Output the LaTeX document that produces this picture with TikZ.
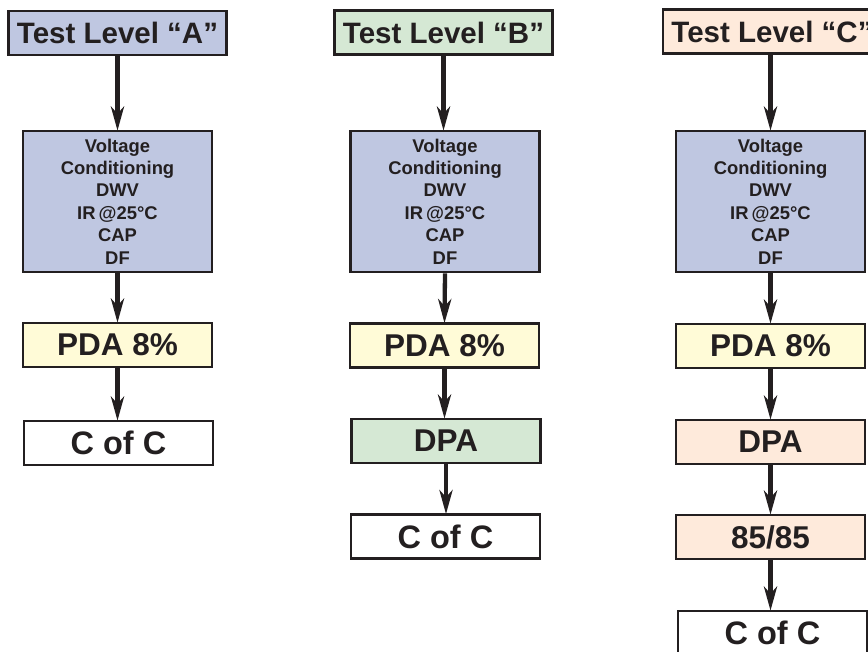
\documentclass[tikz,border=0pt]{standalone}
\usepackage{fontspec}
\setmainfont{Liberation Sans}
\usetikzlibrary{arrows.meta}
\definecolor{ink}{HTML}{231F20}
\definecolor{blueBox}{HTML}{BFC7E1}
\definecolor{yellowBox}{HTML}{FFFBD7}
\definecolor{greenBox}{HTML}{D5E8D4}
\definecolor{peachBox}{HTML}{FEEADB}
\tikzset{
  box/.style={draw=ink, line width=2.6pt, inner sep=0pt, text=ink, font=\bfseries\fontsize{31.5}{31.5}\selectfont, minimum width=189pt, minimum height=44pt},
  cocbox/.style={box, fill=white, font=\bfseries\fontsize{32.5}{32.5}\selectfont},
  titlebox/.style={box, font=\bfseries\fontsize{29.5}{29.5}\selectfont, minimum width=218pt},
  volbox/.style={box, minimum height=141pt, align=center, font=\bfseries\fontsize{18.4}{22.4}\selectfont},
  flow/.style={draw=ink, line width=4.3pt, -{Stealth[length=24pt, width=13pt, inset=7pt]}, shorten >=-1pt}
}
\begin{document}
\begin{tikzpicture}[x=1pt, y=-1pt]
\useasboundingbox (0,0) rectangle (868,651);
\clip (0,0) rectangle (868,651);
% Column A
\node[titlebox, fill=blueBox] (tA) at (117.5,33) {Test Level “A”};
\node[volbox, fill=blueBox] (vA) at (117.5,201.5) {Voltage\\Conditioning\\DWV\\IR\,@25°C\\CAP\\DF};
\node[box, fill=yellowBox] (pA) at (117.5,345) {PDA 8\%};
\node[cocbox] (cA) at (118.5,443) {C of C};
% Column B
\node[titlebox, fill=greenBox] (tB) at (443.5,32.5) {Test Level “B”};
\node[volbox, fill=blueBox] (vB) at (445,201.5) {Voltage\\Conditioning\\DWV\\IR\,@25°C\\CAP\\DF};
\node[box, fill=yellowBox] (pB) at (444.5,345.5) {PDA 8\%};
\node[box, fill=greenBox] (dB) at (446,441) {DPA};
\node[cocbox] (cB) at (445.5,536.5) {C of C};
% Column C
\node[titlebox, fill=peachBox] (tC) at (772,31.5) {Test Level “C”};
\node[volbox, fill=blueBox] (vC) at (770.5,201.5) {Voltage\\Conditioning\\DWV\\IR\,@25°C\\CAP\\DF};
\node[box, fill=yellowBox] (pC) at (770.5,346) {PDA 8\%};
\node[box, fill=peachBox] (dC) at (770.5,442) {DPA};
\node[box, fill=peachBox] (hC) at (770.5,537) {85/85};
\node[cocbox] (cC) at (772.5,633) {C of C};
% Arrows
\draw[flow] (tA.south) -- (vA.north);
\draw[flow] (vA.south) -- (pA.north);
\draw[flow] (pA.south) -- (pA.south |- cA.north);
\draw[flow] (tB.south) -- (tB.south |- vB.north);
\draw[flow] (vB.south) -- (pB.north);
\draw[flow] (pB.south) -- (pB.south |- dB.north);
\draw[flow] (dB.south) -- (dB.south |- cB.north);
\draw[flow] (tC.south -| vC.north) -- (vC.north);
\draw[flow] (vC.south) -- (pC.north);
\draw[flow] (pC.south) -- (dC.north);
\draw[flow] (dC.south) -- (hC.north);
\draw[flow] (hC.south) -- (hC.south |- cC.north);
\end{tikzpicture}
\end{document}
